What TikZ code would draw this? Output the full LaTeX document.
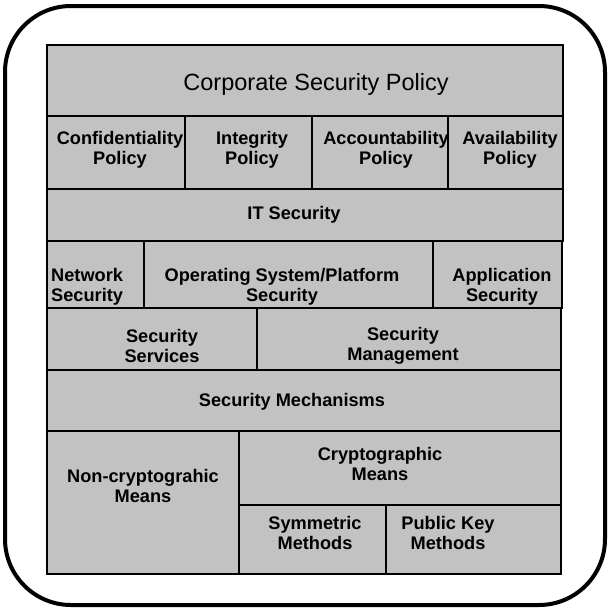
\documentclass[tikz,border=0pt]{standalone}
\usepackage{fontspec}
\setmainfont{Liberation Sans}
\usepackage{tikz}
\definecolor{cellgray}{gray}{0.76}
\tikzset{
  cell/.style={draw, line width=1.6pt, fill=cellgray},
  lbl/.style={inner sep=0pt, align=center, font=\fontsize{18.2}{20}\selectfont\bfseries},
  biglbl/.style={inner sep=0pt, align=center, font=\fontsize{23.5}{26}\selectfont}
}

\begin{document}
\begin{tikzpicture}[x=1pt,y=-1pt]
\useasboundingbox (0,0) rectangle (610,611);
\draw [line width=4pt, rounded corners=66pt] (5,6) rectangle (605,605);

\draw [cell] (47,45) rectangle (563,116);
\draw [cell] (47,116) rectangle (185,189);
\draw [cell] (185,116) rectangle (312,189);
\draw [cell] (312,116) rectangle (448,189);
\draw [cell] (448,116) rectangle (563,189);
\draw [cell] (47,189) rectangle (563,241);
\draw [cell] (47,241) rectangle (144,308);
\draw [cell] (144,241) rectangle (433,308);
\draw [cell] (433,241) rectangle (562,308);
\draw [cell] (47,308) rectangle (257,370);
\draw [cell] (257,308) rectangle (561,370);
\draw [cell] (47,370) rectangle (561,431);
\draw [cell] (47,431) rectangle (239,574);
\draw [cell] (239,431) rectangle (561,505);
\draw [cell] (239,505) rectangle (386,574);
\draw [cell] (386,505) rectangle (561,574);

\draw (316,84)node[biglbl] (corp){Corporate Security Policy};
\draw (120,150)node[lbl] (conf){Confidentiality\\Policy};
\draw (252,150)node[lbl] (integ){Integrity\\Policy};
\draw (386,150)node[lbl] (acct){Accountability\\Policy};
\draw (510,150)node[lbl] (avail){Availability\\Policy};
\draw (294,215)node[lbl] (itsec){IT Security};
\draw (51,287)node[lbl, anchor=west, align=left] (netsec){Network\\Security};
\draw (282,287)node[lbl] (ossec){Operating System/Platform\\Security};
\draw (502,287)node[lbl] (appsec){Application\\Security};
\draw (162,346)node[lbl] (serv){Security\\Services};
\draw (403,346)node[lbl] (mgmt){Security\\Management};
\draw (292,402)node[lbl] (mech){Security Mechanisms};
\draw (143,486)node[lbl] (noncrypt){Non-cryptograhic\\Means};
\draw (380,464)node[lbl] (crypt){Cryptographic\\Means};
\draw (315,533)node[lbl] (symm){Symmetric\\Methods};
\draw (448,533)node[lbl] (pubkey){Public Key\\Methods};
\end{tikzpicture}
\end{document}
